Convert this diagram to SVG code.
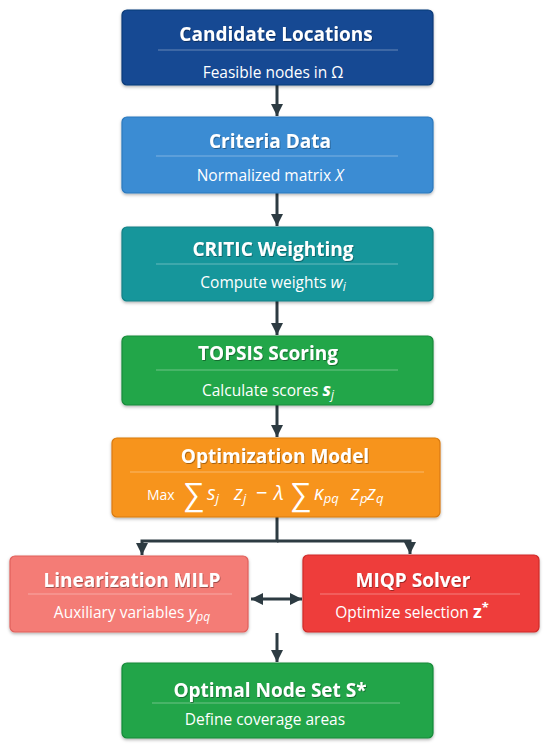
<svg xmlns="http://www.w3.org/2000/svg" width="550" height="750" viewBox="0 0 550 750">
<defs>
<filter id="sh" x="-5%" y="-10%" width="110%" height="130%">
<feDropShadow dx="0" dy="1.5" stdDeviation="1.5" flood-color="#000" flood-opacity="0.3"/>
</filter>
<filter id="ts" x="-5%" y="-20%" width="110%" height="150%">
<feDropShadow dx="0.8" dy="1" stdDeviation="0.6" flood-color="#000" flood-opacity="0.35"/>
</filter>
<marker id="ah" viewBox="0 0 12 12" refX="12" refY="6" markerWidth="12" markerHeight="12" markerUnits="userSpaceOnUse" orient="auto-start-reverse">
<path d="M0,0 L12,6 L0,12 Z" fill="#2d3b42"/>
</marker>
</defs>
<style>
.box{stroke-width:1.2;filter:url(#sh)}
.t{font-family:"Open Sans","Liberation Sans",sans-serif;font-weight:bold;font-size:19px;fill:#fff;text-anchor:middle;filter:url(#ts)}
.s{font-family:"Open Sans","Liberation Sans",sans-serif;font-size:15.5px;fill:#fff;text-anchor:middle}
.m{font-style:italic}
.sep{stroke:#fff;stroke-opacity:0.35;stroke-width:1}
.c{fill:none;stroke:#2d3b42;stroke-width:3}
.f{font-family:"Open Sans","Liberation Sans",sans-serif;fill:#fff}
.fv{font-style:italic;font-size:20px}
.fs{font-style:italic;font-size:13px}
.fb{font-size:31px}
</style>
<rect width="550" height="750" fill="#fff"/>

<g id="connectors">
<path class="c" d="M277,85 V116" marker-end="url(#ah)"/>
<path class="c" d="M277,193 V226" marker-end="url(#ah)"/>
<path class="c" d="M277,301 V335" marker-end="url(#ah)"/>
<path class="c" d="M277,405 V437" marker-end="url(#ah)"/>
<path class="c" d="M277,517 V541 H142 V555" marker-end="url(#ah)"/>
<path class="c" d="M277,541 H410 V554" marker-end="url(#ah)"/>
<path class="c" d="M251,599 H302" marker-start="url(#ah)" marker-end="url(#ah)"/>
<path class="c" d="M277,633 V662" marker-end="url(#ah)"/>
</g>

<g id="candidate-locations">
<rect class="box" x="122" y="10" width="311" height="75" rx="5" fill="#124a93" stroke="#0c3a78"/>
<line class="sep" x1="158" y1="50" x2="398" y2="50"/>
<text class="t" x="276" y="41">Candidate Locations</text>
<text class="s" x="273" y="78">Feasible nodes in Ω</text>
</g>

<g id="criteria-data">
<rect class="box" x="122" y="117" width="311" height="76" rx="5" fill="#3a8cd3" stroke="#2a78bd"/>
<line class="sep" x1="156" y1="156" x2="398" y2="156"/>
<text class="t" x="270" y="148">Criteria Data</text>
<text class="s" x="270" y="181">Normalized matrix <tspan class="m">X</tspan></text>
</g>

<g id="critic-weighting">
<rect class="box" x="122" y="227" width="311" height="74" rx="5" fill="#17969b" stroke="#0f8085"/>
<line class="sep" x1="156" y1="264" x2="398" y2="264"/>
<text class="t" x="273" y="256">CRITIC Weighting</text>
<text class="s" x="273" y="288">Compute weights <tspan class="m" font-size="17">w</tspan><tspan class="m" font-size="12" dy="3">i</tspan></text>
</g>

<g id="topsis-scoring">
<rect class="box" x="122" y="336" width="311" height="69" rx="5" fill="#21a64a" stroke="#178a3a"/>
<line class="sep" x1="156" y1="370" x2="398" y2="370"/>
<text class="t" x="268" y="360">TOPSIS Scoring</text>
<text class="s" x="268" y="396">Calculate scores <tspan class="m" font-weight="bold" font-size="18">s</tspan><tspan class="m" font-size="12" dy="3">j</tspan></text>
</g>

<g id="optimization-model">
<rect class="box" x="112" y="438" width="328" height="79" rx="5" fill="#f7941d" stroke="#d97a0c"/>
<line class="sep" x1="130" y1="472" x2="424" y2="472"/>
<text class="t" x="275" y="463">Optimization Model</text>
<text class="f" y="500"><tspan x="147" font-size="14">Max</tspan><tspan class="fb" x="184" y="505">∑</tspan><tspan class="fv" x="207" y="500">s</tspan><tspan class="fs" y="503">j</tspan><tspan class="fv" x="234" y="500">z</tspan><tspan class="fs" y="503">j</tspan><tspan font-size="20" x="256" y="500">−</tspan><tspan class="fv" x="274" y="500">λ</tspan><tspan class="fb" x="291" y="505">∑</tspan><tspan class="fv" x="314" y="500">κ</tspan><tspan class="fs" y="503">pq</tspan><tspan class="fv" x="351" y="500">z</tspan><tspan class="fs" y="503">p</tspan><tspan class="fv" x="367" y="500">z</tspan><tspan class="fs" y="503">q</tspan></text>
</g>

<g id="linearization-milp">
<rect class="box" x="10" y="556" width="238" height="76" rx="5" fill="#f47b76" stroke="#e0605b"/>
<line class="sep" x1="28" y1="594" x2="232" y2="594"/>
<text class="t" x="132" y="587">Linearization MILP</text>
<text class="s" x="132" y="618">Auxiliary variables <tspan class="m" font-size="17">y</tspan><tspan class="m" font-size="12" dy="3">pq</tspan></text>
</g>

<g id="miqp-solver">
<rect class="box" x="303" y="555" width="236" height="77" rx="5" fill="#ee3d3a" stroke="#cf2a28"/>
<line class="sep" x1="320" y1="594" x2="520" y2="594"/>
<text class="t" x="413" y="587">MIQP Solver</text>
<text class="s" x="412" y="618">Optimize selection <tspan font-weight="bold" font-size="18">z</tspan><tspan font-weight="bold" font-size="13" dy="-6">*</tspan></text>
</g>

<g id="optimal-node-set">
<rect class="box" x="122" y="663" width="311" height="75" rx="5" fill="#20a548" stroke="#178a3a"/>
<line class="sep" x1="152" y1="703" x2="400" y2="703"/>
<text class="t" x="270" y="697">Optimal Node Set S*</text>
<text class="s" x="265" y="725">Define coverage areas</text>
</g>
</svg>
